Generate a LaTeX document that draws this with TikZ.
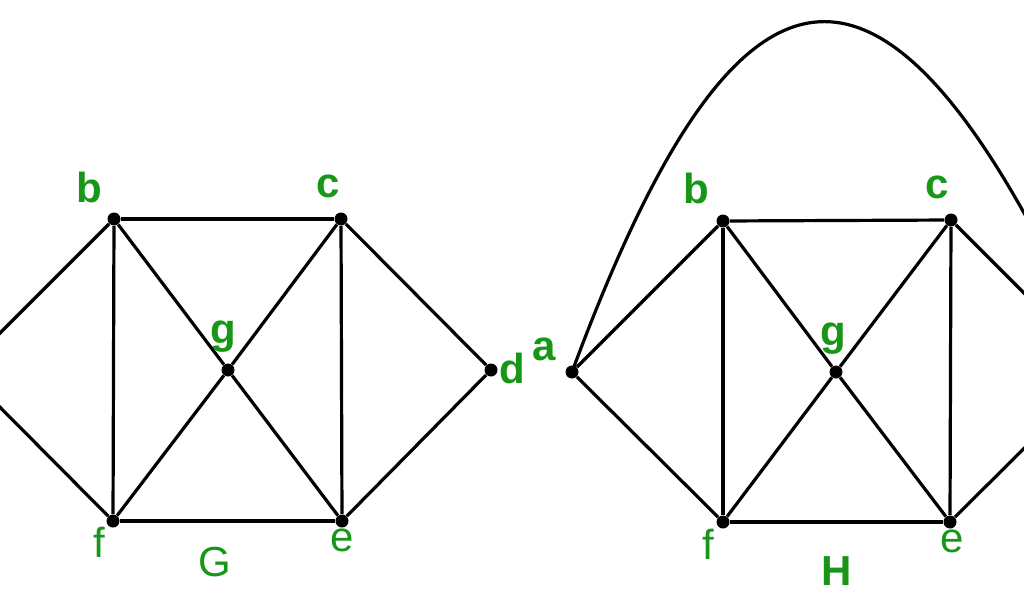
\documentclass[tikz,border=0pt]{standalone}
\usepackage{fontspec}
\setmainfont{Liberation Sans}
\definecolor{lblgreen}{RGB}{24,150,24}
\begin{document}
\begin{tikzpicture}[x=0.5pt,y=-0.5pt,
  vtx/.style={circle,fill=black,inner sep=0pt,minimum size=6.5pt},
  edge/.style={line width=1.6pt,black},
  lbl/.style={text=lblgreen,inner sep=0pt,font=\fontsize{21}{25}\selectfont\bfseries},
  lblr/.style={text=lblgreen,inner sep=0pt,font=\fontsize{21}{25}\selectfont}]
\useasboundingbox (0,0) rectangle (1024,600);
\clip (0,0) rectangle (1024,600);
\fill[white] (0,0) rectangle (1024,600);
% ---- graph G ----
\coordinate (Ga) at (-37,370);
\node[vtx] (Gb) at (114,219) {};
\node[vtx] (Gc) at (341,219) {};
\node[vtx] (Gg) at (228,370) {};
\node[vtx] (Gd) at (491,370) {};
\node[vtx] (Gf) at (113,521) {};
\node[vtx] (Ge) at (342,521) {};
\draw[edge] (Ga) -- (Gb);
\draw[edge] (Ga) -- (Gf);
\draw[edge] (Gb) -- (Gc);
\draw[edge] (Gb) -- (Gg);
\draw[edge] (Gb) -- (Gf);
\draw[edge] (Gc) -- (Gg);
\draw[edge] (Gc) -- (Ge);
\draw[edge] (Gc) -- (Gd);
\draw[edge] (Gg) -- (Gf);
\draw[edge] (Gg) -- (Ge);
\draw[edge] (Gf) -- (Ge);
\draw[edge] (Ge) -- (Gd);
\node[lbl] (Lb) at (89,187) {b};
\node[lbl] (Lc) at (328,186) {c};
\node[lbl] (Lg) at (223,337) {g};
\node[lbl] (Ld) at (512,368) {d};
\node[lblr] (Lf) at (99,542) {f};
\node[lblr] (Le) at (342,540) {e};
\node[lblr] (LG) at (215,562) {G};
% ---- graph H ----
\node[vtx] (Ha) at (572,372) {};
\node[vtx] (Hb) at (723,221) {};
\node[vtx] (Hc) at (951,220) {};
\node[vtx] (Hg) at (836,372) {};
\node[vtx] (Hf) at (723,522) {};
\node[vtx] (He) at (950,522) {};
\coordinate (Hd) at (1102,371);
\draw[edge] (Ha) -- (Hb);
\draw[edge] (Ha) -- (Hf);
\draw[edge] (Hb) -- (Hc);
\draw[edge] (Hb) -- (Hg);
\draw[edge] (Hb) -- (Hf);
\draw[edge] (Hc) -- (Hg);
\draw[edge] (Hc) -- (He);
\draw[edge] (Hc) -- (Hd);
\draw[edge] (Hg) -- (Hf);
\draw[edge] (Hg) -- (He);
\draw[edge] (Hf) -- (He);
\draw[edge] (He) -- (Hd);
\draw[edge] (Ha.center) .. controls (745,-95) and (895,-95) .. (Hd);
\node[lbl] (Ma) at (544,349) {a};
\node[lbl] (Mb) at (696,188) {b};
\node[lbl] (Mc) at (937,187) {c};
\node[lbl] (Mg) at (833,339) {g};
\node[lblr] (Mf) at (708,544) {f};
\node[lblr] (Me) at (952,541) {e};
\node[lbl] (MH) at (837,571) {H};
\end{tikzpicture}
\end{document}
